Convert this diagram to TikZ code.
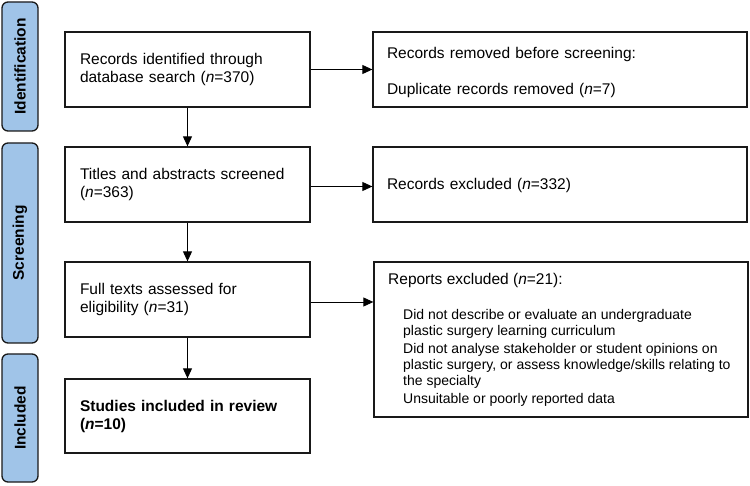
\documentclass[tikz,border=0pt]{standalone}
\usepackage{fontspec}
\setmainfont{Liberation Sans}
\usetikzlibrary{arrows.meta}
\definecolor{tabblue}{RGB}{160,196,232}
\definecolor{edge}{RGB}{25,25,25}
\begin{document}
\begin{tikzpicture}[x=1pt,y=-1pt,
  box/.style={draw=edge, line width=1.3pt, rectangle, inner xsep=15pt, inner ysep=0pt,
    align=left, font=\fontsize{15.5}{18}\selectfont},
  tab/.style={draw=edge, fill=tabblue, line width=1.3pt, rounded corners=6pt, rotate=90,
    inner sep=0pt, minimum height=36pt, font=\fontsize{15.5}{18}\selectfont\bfseries},
  arr/.style={-{Triangle[length=10pt,width=9pt]}, line width=0.9pt, draw=black}]
\useasboundingbox (0,0) rectangle (750,486);

% phase tabs
\node[tab, minimum width=129pt] (t1) at (20,66.5) {Identification};
\node[tab, minimum width=200pt] (t2) at (20,243) {Screening};
\node[tab, minimum width=128pt] (t3) at (20,418) {Included};

% left column
\node[box, minimum width=245pt, minimum height=75pt, text width=215pt] (b1) at (187.5,69.5)
  {Records identified through\\database search (\textit{n}=370)};
\node[box, minimum width=245pt, minimum height=75pt, text width=215pt] (b2) at (187.5,184.5)
  {Titles and abstracts screened\\(\textit{n}=363)};
\node[box, minimum width=245pt, minimum height=75pt, text width=215pt] (b3) at (187.5,299.5)
  {Full texts assessed for\\eligibility (\textit{n}=31)};
\node[box, minimum width=245pt, minimum height=74pt, text width=215pt] (b4) at (187.5,416)
  {\textbf{Studies included in review}\\\textbf{(\textit{n}=10)}};

% right column
\node[box, minimum width=374pt, minimum height=75pt, inner xsep=14pt, text width=346pt] (r1) at (560,69.5)
  {\rule{0pt}{17pt}Records removed before screening:\\[18pt]Duplicate records removed (\textit{n}=7)};
\node[box, minimum width=374pt, minimum height=75pt, inner xsep=14pt, text width=346pt] (r2) at (560,184.5)
  {\rule{0pt}{14pt}Records excluded (\textit{n}=332)};
\node[box, minimum width=374pt, minimum height=155pt] (r3) at (561,339.5) {};
\node[anchor=base west, inner sep=0pt, font=\fontsize{15.5}{18}\selectfont] (r3h) at (388,285)
  {Reports excluded (\textit{n}=21):};
\node[anchor=base west, inner sep=0pt] (r3l) at (403,320)
  {\parbox[t]{344pt}{\fontsize{14}{16}\selectfont\raggedright
   Did not describe or evaluate an undergraduate\\plastic surgery learning curriculum\par\vspace{2pt}
   Did not analyse stakeholder or student opinions on\\plastic surgery, or assess knowledge/skills relating to\\the specialty\par\vspace{2pt}
   Unsuitable or poorly reported data}};

% connectors
\draw[arr] (b1.south) -- (b2.north);
\draw[arr] (b2.south) -- (b3.north);
\draw[arr] (b3.south) -- (b4.north);
\draw[arr] (b1.east) -- (r1.west);
\draw[arr] ([yshift=-2pt]b2.east) -- ([yshift=-2pt]r2.west);
\draw[arr] ([yshift=-2.5pt]b3.east) -- ([yshift=-2.5pt]b3.east -| r3.west);
\end{tikzpicture}
\end{document}
